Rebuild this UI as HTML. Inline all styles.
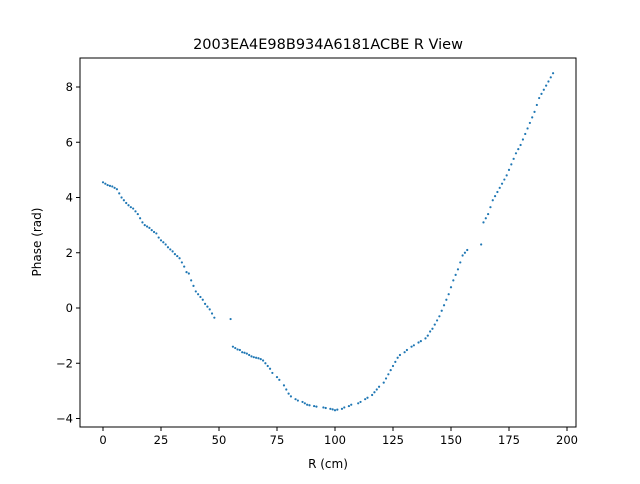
<!DOCTYPE html>
<html><head><meta charset="utf-8"><style>
body{margin:0;background:#fff;font-family:"DejaVu Sans","Liberation Sans",sans-serif;}
svg text{font-family:"DejaVu Sans","Liberation Sans",sans-serif;}
</style></head><body>
<svg id="chart" width="640" height="480">
<rect width="640" height="480" fill="#fff"/>
<text x="328" y="49" text-anchor="middle" font-size="14.5">2003EA4E98B934A6181ACBE R View</text>
<text x="328" y="468" text-anchor="middle" font-size="12">R (cm)</text>
<text transform="translate(41,242) rotate(-90)" text-anchor="middle" font-size="12">Phase (rad)</text>
<g id="xt"></g><g id="yt"></g><g id="pts"></g>
<rect x="80" y="58" width="496" height="369" fill="none" stroke="#000" stroke-width="1"/>
</svg>
<script>
const xTicks=[0,25,50,75,100,125,150,175,200];
const yTicks=[-4,-2,0,2,4,6,8];
const rVals=[0,1,2,3,4,5,6,7,8,9,10,11,12,13,14,15,16,17,18,19,20,21,22,23,24,25,26,27,28,29,30,31,32,33,34,35,36,37,38,39,40,41,42,43,44,45,46,47,48,55,56,57,58,59,60,61,62,63,64,65,66,67,68,69,70,71,72,73,75,76,78,79,80,81,83,84,86,87,88,89,91,92,95,96,98,99,100,101,103,104,106,107,110,111,113,114,116,117,118,119,121,122,123,124,125,126,127,128,130,131,133,134,136,137,139,140,141,142,143,144,145,146,147,148,149,150,151,152,153,154,155,156,157,163,164,165,166,167,168,169,170,171,172,173,174,175,176,177,178,179,180,181,182,183,184,185,186,187,188,189,190,191,192,193,194];
const phaseVals=[4.55,4.5,4.45,4.42,4.4,4.35,4.3,4.15,4.0,3.9,3.8,3.72,3.65,3.6,3.5,3.4,3.25,3.1,3.0,2.95,2.9,2.82,2.75,2.7,2.55,2.45,2.38,2.3,2.2,2.12,2.05,1.95,1.88,1.8,1.65,1.5,1.3,1.25,1.0,0.8,0.6,0.5,0.4,0.3,0.15,0.05,-0.05,-0.2,-0.35,-0.4,-1.4,-1.45,-1.5,-1.52,-1.6,-1.62,-1.65,-1.7,-1.75,-1.78,-1.8,-1.82,-1.85,-1.9,-2.0,-2.1,-2.2,-2.35,-2.5,-2.6,-2.8,-2.95,-3.1,-3.2,-3.3,-3.35,-3.4,-3.45,-3.5,-3.52,-3.55,-3.57,-3.6,-3.62,-3.65,-3.67,-3.7,-3.68,-3.65,-3.6,-3.55,-3.5,-3.45,-3.4,-3.3,-3.25,-3.15,-3.05,-2.95,-2.85,-2.7,-2.55,-2.4,-2.25,-2.1,-1.95,-1.8,-1.7,-1.6,-1.52,-1.4,-1.35,-1.25,-1.2,-1.1,-1.0,-0.85,-0.75,-0.6,-0.45,-0.3,-0.1,0.1,0.3,0.5,0.75,1.0,1.2,1.4,1.65,1.9,2.0,2.1,2.3,3.1,3.25,3.4,3.65,3.9,4.05,4.2,4.35,4.5,4.65,4.8,5.0,5.2,5.4,5.6,5.75,5.9,6.1,6.3,6.5,6.7,6.9,7.1,7.35,7.6,7.75,7.9,8.05,8.2,8.35,8.5];
const X0=80,X1=576,Y0=58,Y1=427;
const xs=v=>103+(v-0)*(567-103)/200;
const ys=v=>308-(v)*(308-87)/8;
const NS="http://www.w3.org/2000/svg";
function mk(t,a,p){const e=document.createElementNS(NS,t);for(const k in a)e.setAttribute(k,a[k]);p.appendChild(e);return e;}
const xt=document.getElementById('xt'),yt=document.getElementById('yt'),pts=document.getElementById('pts');
xTicks.forEach(v=>{const x=xs(v);
const l=mk('line',{x1:x,x2:x,y1:Y1,y2:Y1+4,stroke:'#000'},xt);


const t=mk('text',{x:x,y:Y1+17,'text-anchor':'middle','font-size':'11.5'},xt);t.textContent=v;

});
yTicks.forEach(v=>{const y=ys(v);
const l=mk('line',{x1:X0-4,x2:X0,y1:y,y2:y,stroke:'#000'},yt);


const t=mk('text',{x:X0-7,y:y+4,'text-anchor':'end','font-size':'11.5'},yt);t.textContent=v<0?'\u2212'+(-v):v;

});
rVals.forEach((r,i)=>{const c=mk('circle',{cx:xs(r),cy:ys(phaseVals[i]),r:1.1,fill:'#1f77b4'},pts);

});
</script>
</body></html>
